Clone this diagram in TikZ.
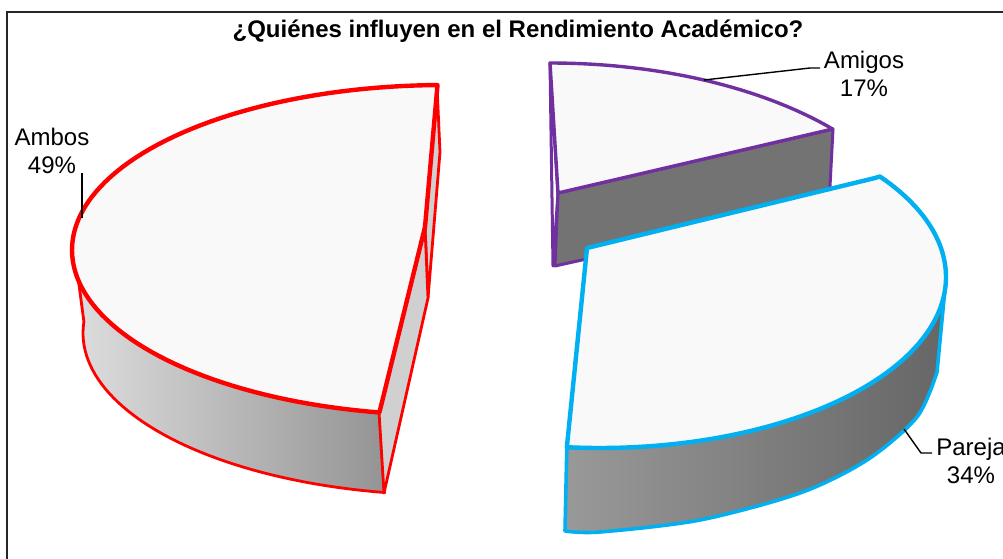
\documentclass[tikz,border=0pt]{standalone}
\usepackage{fontspec}
\setmainfont{Liberation Sans}
\definecolor{ambosred}{HTML}{FF0000}
\definecolor{amigospurple}{HTML}{7030A0}
\definecolor{parejacyan}{HTML}{00B0F0}
\definecolor{topfill}{HTML}{F9F9F9}
\definecolor{cutfill}{HTML}{D0D0D0}
\definecolor{darkwall}{HTML}{737373}
\tikzset{
  topface/.style={fill=topfill, line width=4.4pt, line join=round},
  wallface/.style={line width=2.8pt, line join=round},
  lbl/.style={font=\fontsize{24}{28}\selectfont, align=center, inner sep=0pt},
  leader/.style={draw=black, line width=1.4pt},
  frame/.style={draw=black!85, line width=1.5pt}
}
\begin{document}
\begin{tikzpicture}[x=1pt,y=-1pt]
\useasboundingbox (0,0) rectangle (1003,559);
\fill[white] (0,0) rectangle (1003,559);
% frame
\draw[frame] (7,570) -- (7,12) -- (1010,12);
% title
\node[font=\fontsize{24}{28}\selectfont\bfseries, inner sep=0pt] (title) at (518,31) {¿Quiénes influyen en el Rendimiento Académico?};

% ---------- Ambos ----------
\draw[wallface, draw=ambosred, left color=black!13, right color=black!42]
  plot[domain=176:260, samples=50] ({444+372*cos(\x)}, {250-165*sin(\x)})
  -- plot[domain=260:176, samples=50] ({448+365*cos(\x)}, {333-162*sin(\x)})
  -- cycle;
\draw[wallface, draw=ambosred, fill=cutfill] (425,227) -- (437,86) -- (440,152) -- (428,298) -- cycle;
\draw[wallface, draw=ambosred, fill=cutfill] (379,412) -- (425,227) -- (428,298) -- (384,493) -- cycle;
\draw[topface, draw=ambosred]
  plot[domain=91:260, samples=90] ({444+372*cos(\x)}, {250-165*sin(\x)})
  -- (425,227) -- cycle;

% ---------- Amigos ----------
\draw[wallface, line width=3pt, draw=amigospurple, fill=white] (550,63) -- (553,266) -- (558,193) -- cycle;
\draw[wallface, line width=3pt, draw=amigospurple, fill=darkwall] (558,193) -- (833,129) -- (829,205) -- (555,266) -- cycle;
\draw[line width=3.4pt, line join=round, draw=amigospurple, fill=topfill]
  plot[domain=90:41.6, samples=40] ({550+378*cos(\x)}, {259.5-196.5*sin(\x)})
  -- (558,193) -- cycle;

% ---------- Pareja ----------
\draw[wallface, draw=parejacyan, line width=3.6pt, left color=black!40, middle color=black!60, right color=black!60]
  plot[domain=-95.5:-5, samples=60] ({600+346*cos(\x)}, {277-171*sin(\x)})
  -- (937,372)
  -- plot[smooth] coordinates {(937,372) (917,417) (867,460) (800,493) (700,520) (600,532) (565,531)}
  -- cycle;
\draw[topface, draw=parejacyan]
  (587,248) -- (875,178)
  -- plot[domain=36:-95.5, samples=90] ({600+346*cos(\x)}, {277-171*sin(\x)})
  -- cycle;

% ---------- labels ----------
\node[lbl] (ambos) at (52,151) {Ambos\\49\%};
\node[lbl] (amigos) at (864,74) {Amigos\\17\%};
\node[lbl] (pareja) at (971,461) {Pareja\\34\%};

\coordinate (ambosTip) at (82,218);
\coordinate (ambosTop) at (82,173);
\draw[leader] (ambosTop) -- (ambosTip);

\coordinate (amigosTip) at (704,80);
\coordinate (amigosBend) at (810,68);
\coordinate (amigosEnd) at (820,68);
\draw[leader] (amigosEnd) -- (amigosBend) -- (amigosTip);

\coordinate (parejaTip) at (904,429);
\coordinate (parejaBend) at (921,453);
\coordinate (parejaEnd) at (932,453);
\draw[leader] (parejaEnd) -- (parejaBend) -- (parejaTip);
\end{tikzpicture}
\end{document}
